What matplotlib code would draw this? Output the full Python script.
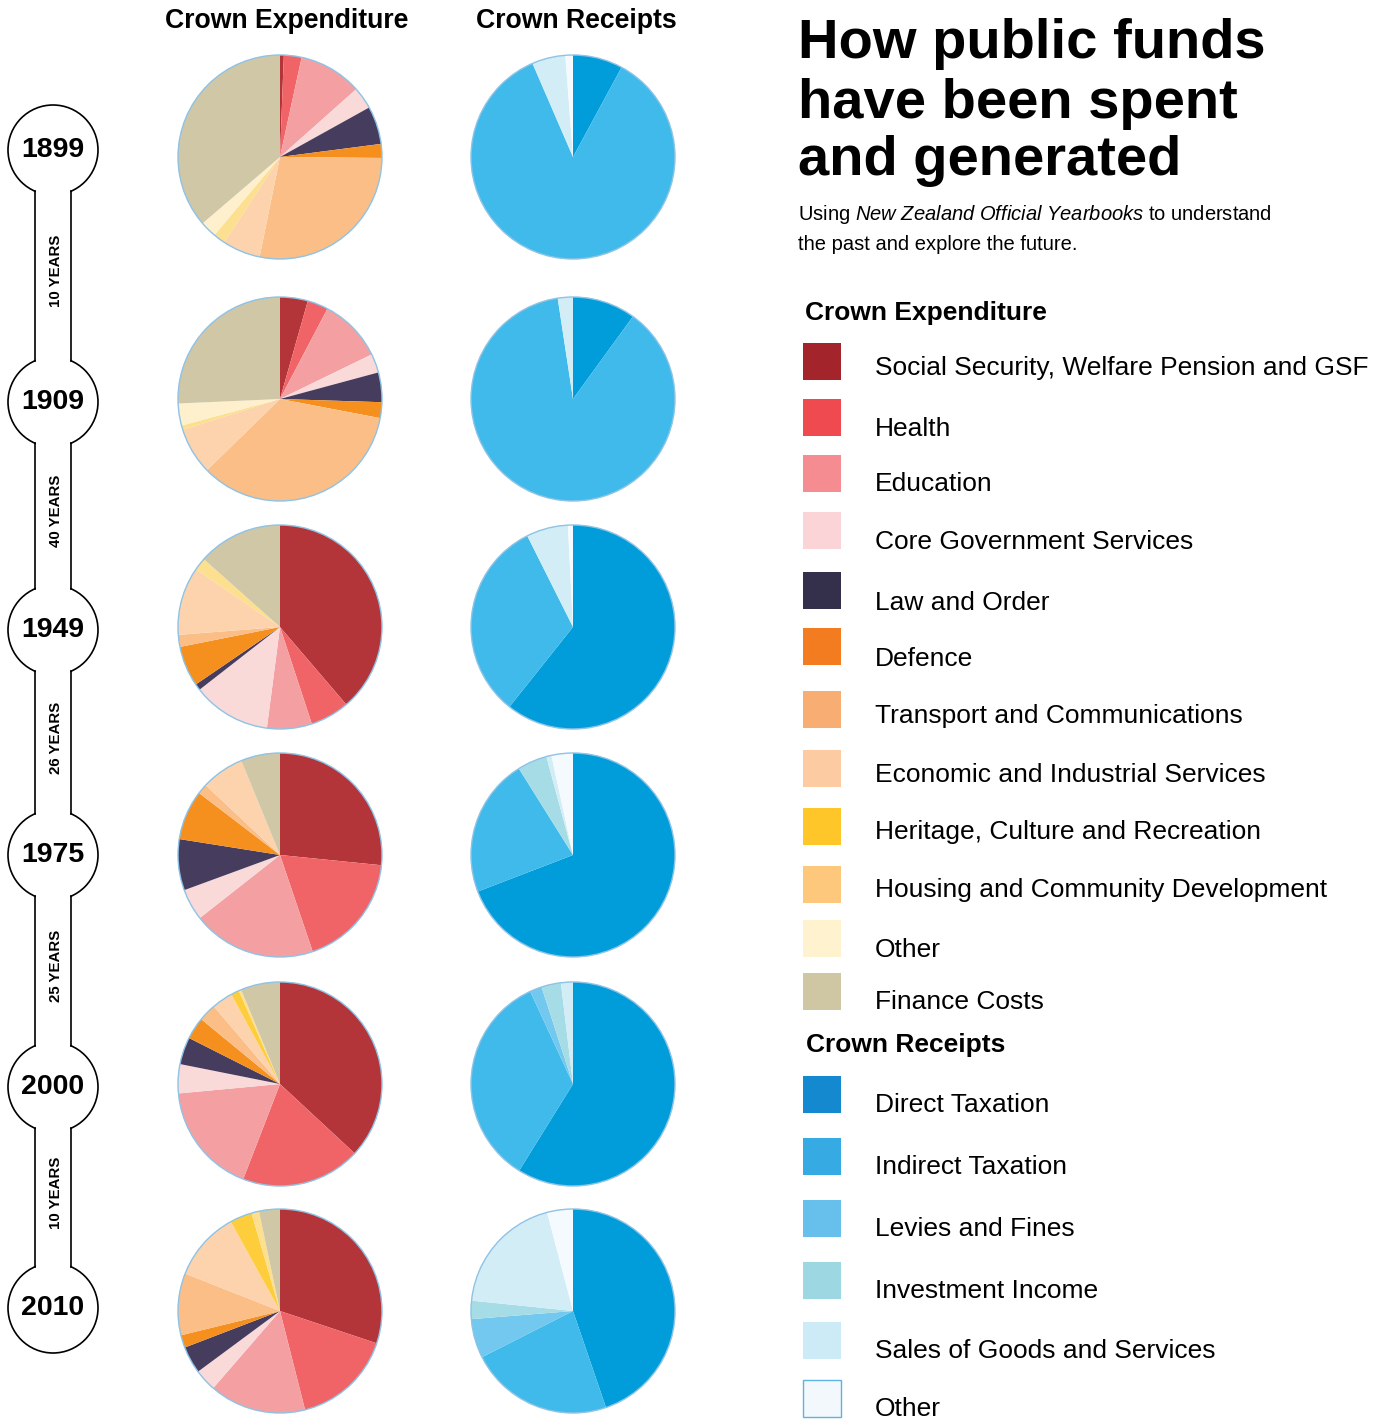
import matplotlib
matplotlib.use("Agg")
import matplotlib.pyplot as plt
from matplotlib.patches import Circle, Rectangle

plt.rcParams["font.family"] = ["Liberation Sans", "DejaVu Sans"]
plt.rcParams["mathtext.fontset"] = "custom"
plt.rcParams["mathtext.rm"] = "Liberation Sans"
plt.rcParams["mathtext.it"] = "Liberation Sans:italic"

# ---- data (percent shares) ----
years = ["1899", "1909", "1949", "1975", "2000", "2010"]
gaps = ["10 YEARS", "40 YEARS", "26 YEARS", "25 YEARS", "10 YEARS"]

exp_labels = ["Social Security, Welfare Pension and GSF", "Health", "Education",
              "Core Government Services", "Law and Order", "Defence",
              "Transport and Communications", "Economic and Industrial Services",
              "Heritage, Culture and Recreation", "Housing and Community Development",
              "Other", "Finance Costs"]
exp_1899 = [0.6, 2.8, 10.0, 3.5, 6.0, 2.2, 28.0, 6.0, 0.0, 1.9, 2.6, 36.2]
exp_1909 = [4.4, 3.3, 10.1, 3.0, 4.7, 2.5, 34.7, 7.4, 0.0, 0.7, 3.5, 25.7]
exp_1949 = [38.7, 6.2, 7.1, 12.4, 1.0, 6.4, 1.9, 10.8, 0.0, 2.0, 0.0, 13.4]
exp_1975 = [26.6, 18.2, 19.6, 5.0, 8.1, 7.9, 1.6, 6.8, 0.0, 0.0, 0.0, 6.2]
exp_2000 = [36.8, 18.9, 17.6, 4.6, 4.3, 3.5, 2.8, 3.3, 1.3, 0.4, 0.0, 6.2]
exp_2010 = [30.1, 15.9, 15.3, 3.5, 4.3, 2.0, 9.8, 11.0, 3.5, 1.2, 0.0, 3.3]

rec_labels = ["Direct Taxation", "Indirect Taxation", "Levies and Fines",
              "Investment Income", "Sales of Goods and Services", "Other"]
rec_1899 = [7.9, 85.6, 0.0, 0.0, 5.3, 1.2]
rec_1909 = [10.0, 87.6, 0.0, 0.0, 2.4, 0.0]
rec_1949 = [60.7, 31.9, 0.0, 0.0, 6.6, 0.8]
rec_1975 = [69.1, 21.9, 0.0, 4.7, 0.8, 3.4]
rec_2000 = [58.9, 34.3, 1.9, 3.1, 1.9, 0.0]
rec_2010 = [44.8, 22.8, 6.2, 2.9, 19.3, 4.1]

exp_all = [exp_1899, exp_1909, exp_1949, exp_1975, exp_2000, exp_2010]
rec_all = [rec_1899, rec_1909, rec_1949, rec_1975, rec_2000, rec_2010]

# ---- styles ----
exp_colors = ["#B33539", "#F06467", "#F4A0A2", "#FAD9D9", "#463D5E", "#F5901F",
              "#FABE86", "#FCD3AD", "#FECD3C", "#FCDF8F", "#FEF0CD", "#D0C7A7"]
exp_key_colors = ["#A3242B", "#EE4A50", "#F48C92", "#FAD4D7", "#34304B", "#F47C20",
                  "#F8AE72", "#FCCBA2", "#FFC629", "#FDC87B", "#FFF2CE", "#CFC7A3"]
rec_colors = ["#009DDA", "#3FBAEA", "#72C8EE", "#A6DCE6", "#D3EDF7", "#F5FAFE"]
rec_key_colors = ["#1589CF", "#35AAE3", "#67C0EC", "#9DD8E2", "#CDEAF7", "#F2F8FC"]

W, H = 1378, 1427
fig = plt.figure(figsize=(W / 100, H / 100), dpi=100)
ax = fig.add_axes([0, 0, 1, 1])

def Y(y):
    return H - y

row_y = [157, 399, 627, 855, 1084, 1311]
r = 102
for i in range(len(years)):
    for cx, vals, cols in [(280, exp_all[i], exp_colors), (573, rec_all[i], rec_colors)]:
        ax.pie(vals, colors=cols, startangle=90, counterclock=False, radius=r,
               center=(cx, Y(row_y[i])), wedgeprops=dict(linewidth=0))
        ax.add_patch(Circle((cx, Y(row_y[i])), r, fill=False, ec="#8EC3E6", lw=1.0))

# ---- timeline ----
circ_y = [150, 402, 630, 855, 1087, 1308]
cx, cr, lx1, lx2 = 53, 45, 35, 71
off = (cr ** 2 - (cx - lx1) ** 2) ** 0.5
for yy in circ_y:
    ax.add_patch(Circle((cx, Y(yy)), cr, fc="white", ec="black", lw=1.2, zorder=3))
for k in range(len(gaps)):
    y0, y1 = circ_y[k] + off, circ_y[k + 1] - off
    ax.add_patch(Rectangle((lx1 + 0.8, Y(y1) - 6), lx2 - lx1 - 1.6, (y1 - y0) + 12,
                           fc="white", ec="none", zorder=4))
    ax.plot([lx1, lx1], [Y(y0), Y(y1)], color="black", lw=1.2, zorder=5)
    ax.plot([lx2, lx2], [Y(y0), Y(y1)], color="black", lw=1.2, zorder=5)
    ax.text(56, Y((circ_y[k] + circ_y[k + 1]) / 2 - 5), gaps[k], rotation=90,
            ha="center", va="center", fontsize=10.8, fontweight="bold", zorder=6)
for yy, lab in zip(circ_y, years):
    ax.text(cx, Y(yy), lab, ha="center", va="center", fontsize=20.5,
            fontweight="bold", zorder=6)

# ---- column headers ----
ax.text(287, Y(21), "Crown Expenditure", ha="center", va="center",
        fontsize=19.2, fontweight="bold")
ax.text(576, Y(21), "Crown Receipts", ha="center", va="center",
        fontsize=19.2, fontweight="bold")

# ---- title block ----
for yb, line in zip([58, 118, 175], ["How public funds", "have been spent", "and generated"]):
    ax.text(798, Y(yb), line, ha="left", va="baseline", fontsize=40.4, fontweight="bold")
ax.text(798, Y(214), r"Using $\mathit{New\ Zealand\ Official\ Yearbooks}$ to understand",
        ha="left", va="center", fontsize=14.5)
ax.text(798, Y(244), "the past and explore the future.", ha="left", va="center",
        fontsize=14.5)

# ---- legend ----
ax.text(805, Y(313), "Crown Expenditure", ha="left", va="center",
        fontsize=19, fontweight="bold")
exp_key_y = [361, 417, 473, 530, 590, 646, 709, 768, 826, 884, 938, 991]
exp_text_y = [366, 427, 482, 540, 601, 657, 714, 773, 830, 888, 948, 1000]
for yy, ty, lab, c in zip(exp_key_y, exp_text_y, exp_labels, exp_key_colors):
    ax.add_patch(Rectangle((803, Y(yy + 18.5)), 38, 37, fc=c, ec="none"))
    ax.text(875, Y(ty + 2), lab, ha="left", va="center", fontsize=19)

ax.text(806, Y(1045), "Crown Receipts", ha="left", va="center",
        fontsize=19, fontweight="bold")
rec_key_y = [1094, 1156, 1218, 1280, 1340, 1398]
for j, (yy, lab, c) in enumerate(zip(rec_key_y, rec_labels, rec_key_colors)):
    edge = "#5DB3E3" if j == len(rec_labels) - 1 else "none"
    ax.add_patch(Rectangle((803, Y(yy + 18.5)), 38, 37, fc=c, ec=edge, lw=1))
    ax.text(875, Y(yy + 11), lab, ha="left", va="center", fontsize=19)

ax.set_xlim(0, W)
ax.set_ylim(0, H)
ax.set_aspect("equal")
ax.axis("off")
fig.savefig("out.png", dpi=100, facecolor="white")
